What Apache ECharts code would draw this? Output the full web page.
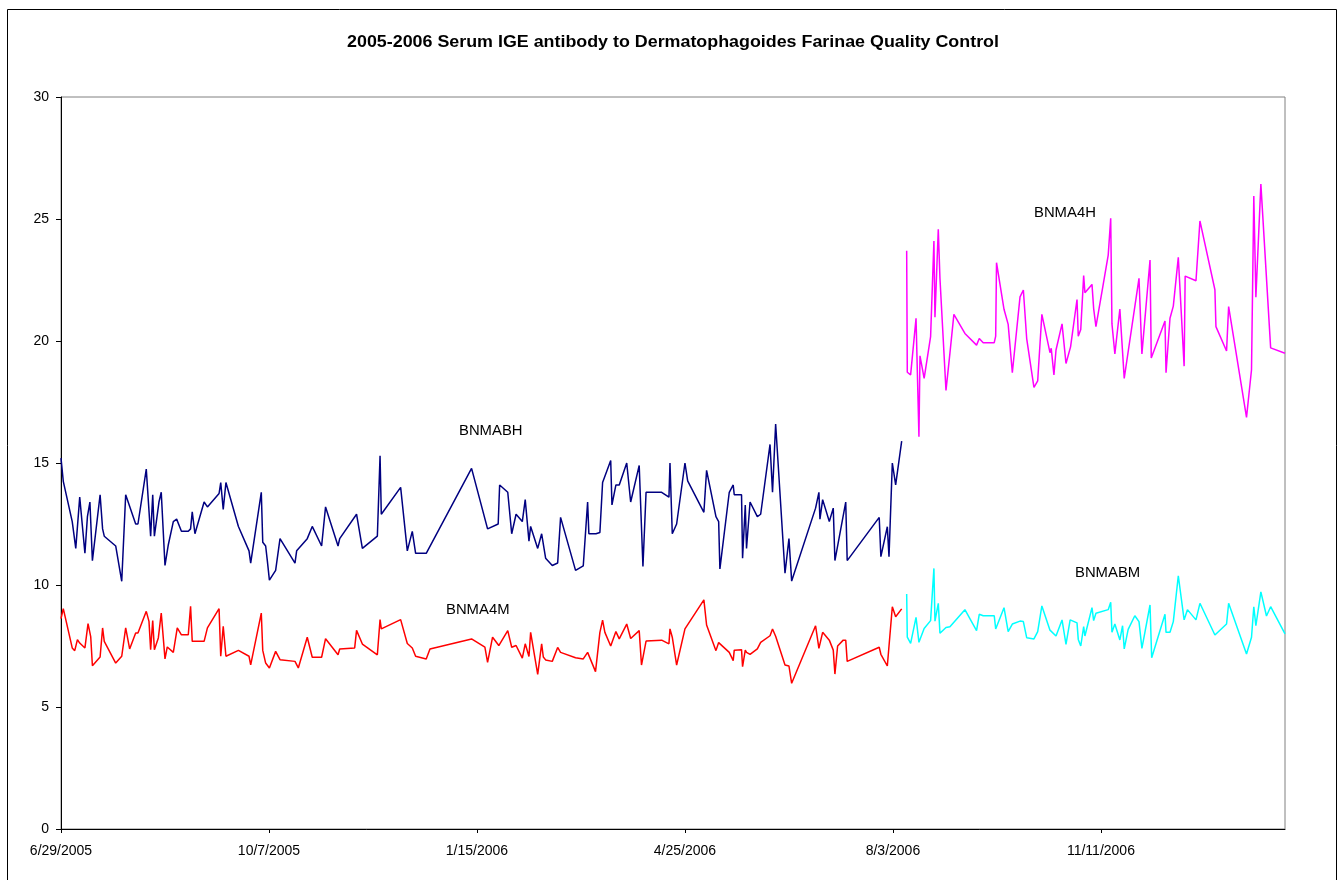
<!DOCTYPE html>
<html>
<head>
<meta charset="utf-8">
<title>Serum IGE QC</title>
<script src="https://cdn.jsdelivr.net/npm/echarts@6/dist/echarts.min.js"></script>
<style>
  html, body { margin: 0; padding: 0; background: #fff; }
  #chart { width: 1341px; height: 880px; }
</style>
</head>
<body>
<div id="chart"></div>
<script>
// ---- data: [days since 6/29/2005, value] ----
const START_DATE = Date.UTC(2005, 5, 29);
const dayTicks = [0, 100, 200, 300, 400, 500];

const bnmabh = [
  [0,15.2],[1.1,14.25],[1.9,14.3],[5.4,12.6],[7.1,11.5],[9.0,13.6],[11.5,11.3],[12.7,12.8],[13.9,13.4],[15.1,11.0],
  [18.8,13.7],[20.0,12.3],[20.8,12.0],[26.3,11.6],[27.1,11.6],[29.2,10.15],[31.1,13.7],[35.9,12.5],[37.0,12.5],[41.0,14.75],
  [43.1,12.0],[44.1,13.7],[44.9,12.0],[47.1,13.4],[48.2,13.8],[50.0,10.8],[51.6,11.65],[54.0,12.6],[55.6,12.7],[57.9,12.2],
  [61.2,12.2],[62.3,12.3],[63.1,13.0],[64.4,12.1],[68.8,13.4],[70.4,13.2],[76.0,13.75],[76.8,14.2],[78.0,13.1],[79.3,14.2],
  [85.3,12.4],[86.1,12.4],[90.4,11.4],[91.2,10.9],[96.3,13.8],[97.0,11.75],[98.4,11.6],[99.2,11.0],[100.2,10.2],[103.2,10.6],
  [105.3,11.9],[112.5,10.9],[113.3,11.4],[114.1,11.4],[118.4,11.9],[120.8,12.4],[125.3,11.6],[127.2,13.2],[133.2,11.6],[134.0,11.9],
  [142.1,12.9],[144.9,11.5],[152.1,12.0],[153.4,15.3],[154.0,12.9],[163.3,14.0],[166.5,11.4],[168.9,12.2],[170.5,11.3],[175.6,11.3],
  [197.4,14.78],[205.1,12.3],[210.2,12.5],[210.9,14.1],[214.8,13.8],[216.7,12.1],[218.8,12.9],[221.8,12.6],[223.2,13.5],[225.0,11.8],
  [225.8,12.4],[229.2,11.5],[231.1,12.1],[233.0,11.1],[236.2,10.8],[238.8,10.9],[240.2,12.77],[247.4,10.6],[251.1,10.78],[253.2,13.4],
  [253.8,12.1],[257.2,12.1],[259.1,12.15],[260.4,14.2],[264.3,15.1],[264.9,13.28],[266.8,14.1],[268.4,14.1],[272.0,15.0],[273.9,13.4],
  [278.0,14.9],[279.8,10.76],[281.3,13.8],[288.8,13.8],[292.3,13.6],[292.8,15.0],[293.9,12.1],[296.0,12.5],[300.0,15.0],[301.3,14.27],
  [309.1,12.98],[310.4,14.7],[314.9,12.8],[316.2,12.6],[316.8,10.66],[321.3,13.8],[323.2,14.1],[323.7,13.7],[327.2,13.7],[327.7,11.1],
  [329.0,13.28],[329.6,11.5],[331.3,13.4],[334.8,12.8],[336.4,12.9],[340.9,15.76],[342.1,13.8],[343.6,16.6],[348.1,10.48],[350.0,11.9],
  [351.3,10.16],[362.8,13.15],[364.4,13.8],[364.9,12.7],[366.2,13.5],[369.4,12.6],[371.3,13.15],[372.1,11.0],[377.3,13.4],[378.0,11.0],
  [393.4,12.77],[394.2,11.16],[397.3,12.39],[398.1,11.16],[399.7,15.0],[401.3,14.1],[404.2,15.9]
];

const bnma4m = [
  [0,8.62],[1.1,9.03],[1.9,9.03],[5.4,7.42],[6.6,7.31],[7.9,7.76],[9.0,7.62],[11.5,7.42],[13.0,8.42],[14.3,7.87],
  [15.1,6.69],[18.8,7.05],[20.0,8.24],[20.8,7.69],[26.3,6.80],[27.1,6.80],[29.2,7.08],[31.1,8.24],[33.0,7.38],[35.9,8.03],
  [37.0,8.03],[41.0,8.92],[42.3,8.51],[43.1,7.35],[44.1,8.54],[44.9,7.35],[46.8,7.83],[48.2,8.85],[50.0,6.97],[51.1,7.46],
  [54.0,7.24],[55.9,8.24],[57.9,7.96],[61.2,7.96],[62.3,9.13],[63.1,7.69],[68.8,7.69],[70.4,8.24],[76.0,9.03],[76.8,7.08],
  [78.0,8.31],[79.3,7.08],[85.3,7.32],[86.1,7.32],[90.4,7.08],[91.2,6.73],[96.3,8.85],[97.0,7.32],[98.4,6.80],[99.2,6.80],
  [100.2,6.60],[103.2,7.28],[105.3,6.94],[112.5,6.87],[114.1,6.60],[118.4,7.86],[120.8,7.04],[125.3,7.04],[127.2,7.80],[133.2,7.14],
  [134.0,7.38],[141.2,7.42],[142.1,8.14],[144.9,7.58],[152.1,7.14],[153.4,8.58],[154.0,8.20],[163.3,8.58],[166.5,7.60],[168.9,7.42],
  [170.5,7.08],[175.6,6.97],[177.4,7.38],[197.4,7.79],[203.8,7.45],[205.1,6.83],[207.5,7.86],[210.5,7.52],[214.8,8.13],[216.7,7.45],
  [218.8,7.52],[221.8,7.0],[223.2,7.59],[225.0,7.07],[225.8,8.06],[229.2,6.34],[231.1,7.59],[231.9,7.05],[233.0,6.93],[236.2,6.87],
  [238.8,7.44],[240.2,7.24],[247.4,7.02],[251.1,6.97],[253.2,7.24],[257.0,6.45],[259.1,8.06],[260.4,8.56],[261.5,8.06],[264.3,7.50],
  [266.8,8.09],[268.4,7.79],[272.0,8.40],[273.9,7.81],[278.0,8.13],[279.1,6.72],[281.3,7.70],[288.8,7.74],[292.3,7.59],[292.8,8.2],
  [293.9,7.86],[296.0,6.72],[300.0,8.2],[309.1,9.39],[310.4,8.36],[314.9,7.31],[316.2,7.64],[321.3,7.24],[323.2,6.9],[323.7,7.33],
  [327.2,7.35],[327.7,6.65],[329.0,7.33],[329.6,7.24],[331.3,7.16],[334.8,7.38],[336.4,7.65],[340.9,7.92],[342.1,8.2],[343.6,7.9],
  [348.1,6.72],[350.0,6.68],[351.3,5.97],[362.8,8.33],[364.4,7.4],[366.2,8.06],[369.4,7.74],[371.3,7.33],[372.1,6.35],[373.4,7.5],
  [376.1,7.74],[377.3,7.74],[378.0,6.87],[393.4,7.45],[394.2,7.16],[397.3,6.68],[399.7,9.11],[401.3,8.7],[404.2,9.02]
];

const bnma4h = [
  [406.6,23.70],[406.9,18.72],[408.5,18.61],[411.1,20.93],[412.5,16.08],[413.0,19.39],[415.0,18.47],[418.1,20.18],[419.7,24.1],[420.2,20.97],
  [421.8,24.58],[422.6,22.57],[425.5,17.97],[427.4,19.5],[429.3,21.09],[434.6,20.31],[440.2,19.83],[441.5,20.1],[443.4,19.93],[448.7,19.93],
  [449.4,20.2],[449.8,23.21],[453.4,21.3],[455.4,20.68],[457.4,18.7],[461.1,21.81],[462.7,22.09],[464.3,20.1],[467.8,18.10],[469.6,18.37],
  [471.6,21.09],[475.5,19.52],[476.1,19.7],[477.4,18.61],[478.4,19.63],[481.3,20.70],[483.2,19.08],[485.4,19.76],[488.5,21.7],[489.1,20.2],
  [490.3,20.47],[491.7,22.68],[492.3,21.98],[495.7,22.32],[496.5,21.33],[497.6,20.59],[501.1,22.32],[503.5,23.52],[504.7,25.03],[505.3,20.70],
  [506.7,19.47],[509.1,21.31],[511.2,18.47],[518.3,22.57],[519.7,19.47],[523.6,23.32],[524.2,19.3],[530.8,20.82],[531.3,18.7],[533.2,20.93],
  [534.8,21.43],[537.2,23.43],[540.0,18.97],[540.5,22.66],[545.7,22.47],[547.6,24.92],[554.8,22.1],[555.3,20.59],[560.4,19.59],[561.4,21.41],
  [570.0,16.87],[572.4,18.82],[573.5,25.94],[574.5,21.79],[576.9,26.43],[581.6,19.72],[588.5,19.5]
];

const bnmabm = [
  [406.6,9.63],[406.9,7.86],[408.5,7.61],[411.1,8.67],[412.5,7.65],[413.0,7.77],[415.0,8.22],[418.1,8.54],[419.7,10.68],[420.2,8.52],
  [421.8,9.25],[422.6,8.02],[425.5,8.26],[427.4,8.29],[434.6,8.99],[440.2,8.13],[441.5,8.8],[443.4,8.74],[448.7,8.74],[449.4,8.2],
  [453.4,9.07],[455.4,8.09],[457.4,8.40],[461.1,8.52],[462.7,8.5],[464.3,7.84],[467.8,7.79],[469.6,8.09],[471.6,9.14],[475.5,8.15],
  [476.1,8.11],[478.4,7.91],[481.3,8.57],[483.2,7.57],[485.2,8.57],[488.5,8.45],[489.1,7.77],[490.3,7.50],[491.7,8.29],[492.3,7.91],
  [495.7,9.07],[496.5,8.54],[497.6,8.84],[503.5,8.99],[504.7,9.29],[505.3,8.06],[506.7,8.40],[509.1,7.75],[510.4,8.33],[511.2,7.38],
  [513.1,8.18],[516.3,8.74],[518.3,8.5],[519.7,7.40],[523.6,9.18],[524.4,7.02],[530.8,8.8],[531.3,8.06],[533.2,8.06],[534.8,8.5],
  [537.2,10.38],[540.0,8.57],[541.6,8.99],[545.7,8.57],[547.6,9.25],[554.8,7.95],[560.4,8.40],[561.4,9.25],[570.0,7.17],[572.4,7.86],
  [573.5,9.11],[574.5,8.33],[576.9,9.72],[579.6,8.73],[581.6,9.11],[588.5,8.0]
];

const seriesNames = ['BNMABH', 'BNMA4M', 'BNMA4H', 'BNMABM'];
const seriesColors = ['#000080', '#FF0000', '#FF00FF', '#00FFFF'];
const seriesData = [bnmabh, bnma4m, bnma4h, bnmabm];

// day offset -> M/D/YYYY
function dayLabel(v) {
  const d = new Date(START_DATE + Math.round(v) * 86400000);
  return (d.getUTCMonth() + 1) + '/' + d.getUTCDate() + '/' + d.getUTCFullYear();
}

const FONT = '"Liberation Sans", Arial, sans-serif';
const chart = echarts.init(document.getElementById('chart'));

// the source picture is a little wide, so text is stretched sideways
const textLabel = (text, x, y) => ({
  type: 'text', x, y, scaleX: 1.06, silent: true,
  style: { text, font: '14px ' + FONT, fill: '#000', textVerticalAlign: 'middle' }
});

chart.setOption({
  animation: false,
  backgroundColor: '#fff',
  grid: {
    left: 61, right: 56, top: 97, bottom: 51,
    show: true, borderColor: '#808080', borderWidth: 1, backgroundColor: '#fff'
  },
  xAxis: {
    type: 'value', min: 0, max: 588.5,
    splitLine: { show: false },
    axisLine: { lineStyle: { color: '#000', width: 1 } },
    axisTick: { show: true, length: 4, customValues: dayTicks, lineStyle: { color: '#000' } },
    axisLabel: {
      customValues: dayTicks, margin: 15,
      fontFamily: FONT, fontSize: 14, color: '#000',
      formatter: dayLabel
    }
  },
  yAxis: {
    type: 'value', min: 0, max: 30, interval: 5,
    splitLine: { show: false },
    axisLine: { show: true, lineStyle: { color: '#000', width: 1 } },
    axisTick: { show: true, length: 5, lineStyle: { color: '#000' } },
    axisLabel: { margin: 12, fontFamily: FONT, fontSize: 14, color: '#000' }
  },
  series: seriesNames.map((name, i) => ({
    name, type: 'line',
    data: seriesData[i],
    showSymbol: false, symbol: 'none',
    lineStyle: { color: seriesColors[i], width: 1.5 },
    itemStyle: { color: seriesColors[i] }
  })),
  graphic: [
    // outer chart border
    { type: 'rect', silent: true, shape: { x: 7.5, y: 9.5, width: 1329, height: 900 },
      style: { fill: 'none', stroke: '#000', lineWidth: 1 } },
    { type: 'text', x: 673, y: 43, scaleX: 1.116, silent: true,
      style: {
        text: '2005-2006 Serum IGE antibody to Dermatophagoides Farinae Quality Control',
        font: 'bold 16px ' + FONT, fill: '#000', textAlign: 'center', textVerticalAlign: 'middle'
      } },
    textLabel('BNMABH', 459, 431),
    textLabel('BNMA4M', 446, 610),
    textLabel('BNMA4H', 1034, 213),
    textLabel('BNMABM', 1075, 573)
  ]
});
</script>
</body>
</html>
